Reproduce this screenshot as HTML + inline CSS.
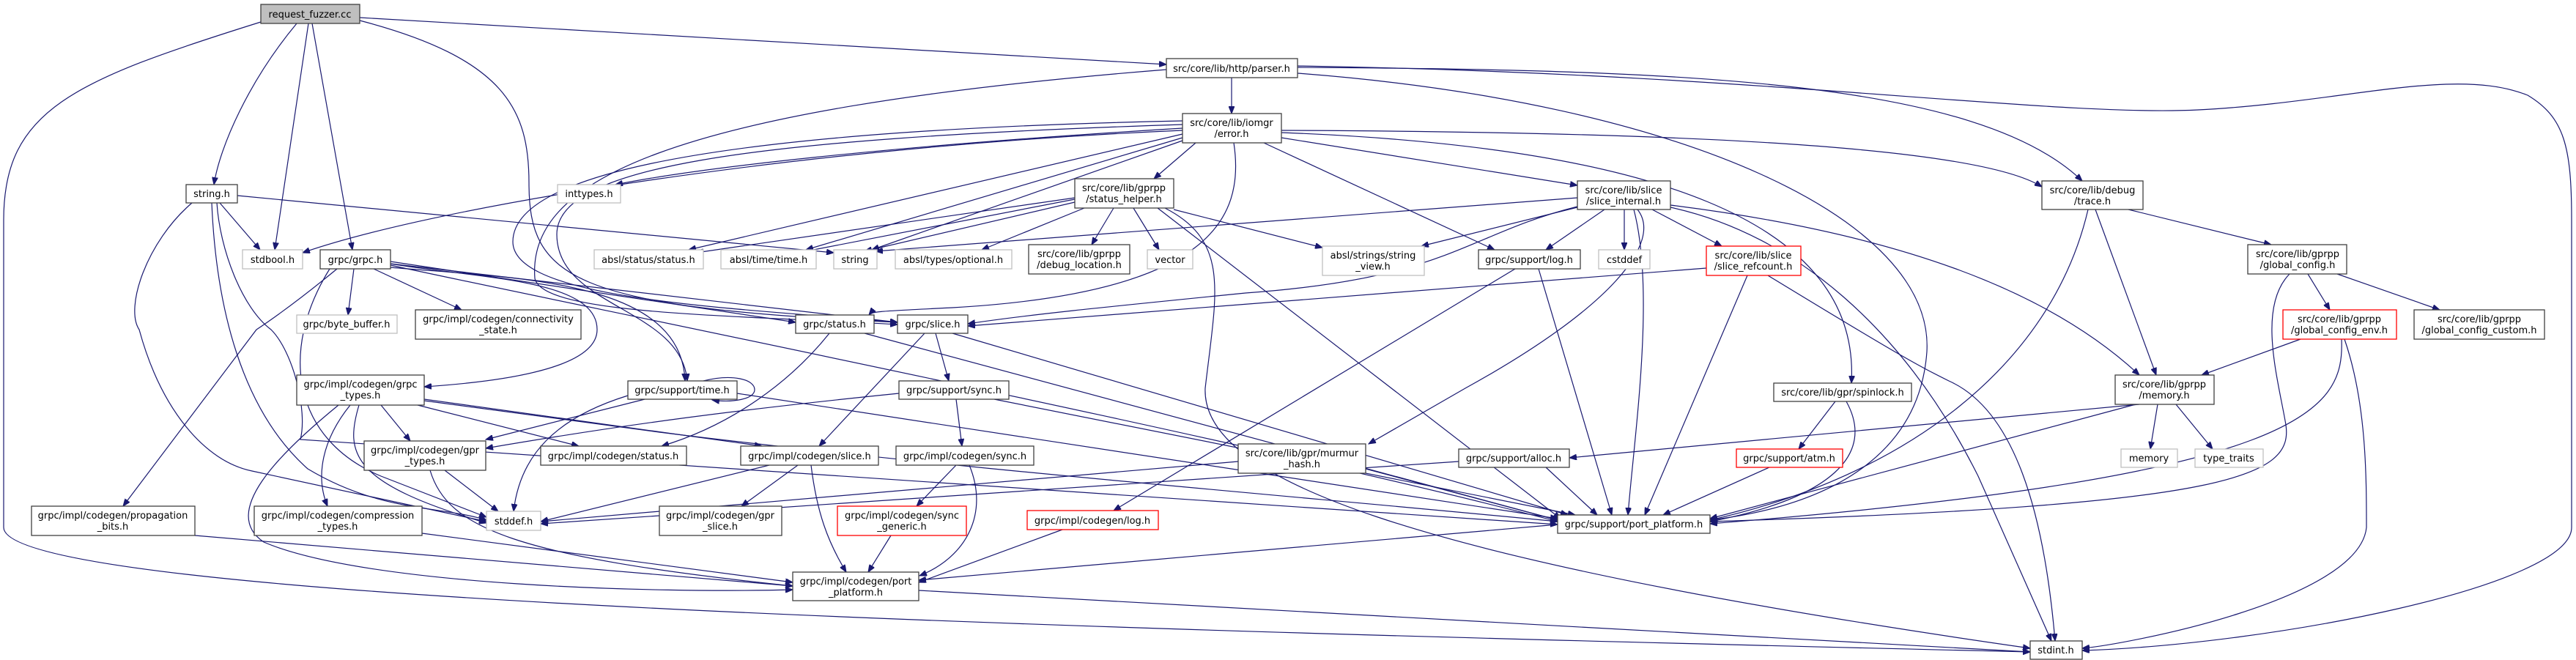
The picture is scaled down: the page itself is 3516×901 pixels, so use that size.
<!DOCTYPE html>
<html><head><meta charset="utf-8"><style>
html,body{margin:0;padding:0;background:#fff;}
svg{display:block;}
text{font-family:"DejaVu Sans","Liberation Sans",sans-serif;font-size:13px;fill:#000;}
.n rect{fill:#fff;stroke:#404040;stroke-width:1.3;}
.g rect{fill:#fff;stroke:#bfbfbf;stroke-width:1.3;}
.r rect{fill:#fff;stroke:#ff0000;stroke-width:1.3;}
.e path{fill:none;stroke:#191970;stroke-width:1.2;marker-end:url(#a);}
</style></head><body>
<svg width="3516" height="901" viewBox="0 0 3516 901" xmlns="http://www.w3.org/2000/svg">
<defs><marker id="a" markerUnits="userSpaceOnUse" markerWidth="11" markerHeight="8" refX="10" refY="4" orient="auto"><path d="M0,0 L10,4 L0,8 z" fill="#191970" stroke="#191970"/></marker></defs>
<g class="e">
<path d="M405 32 C340 110 300 200 292 252"/>
<path d="M421 32 L375 341"/>
<path d="M426 32 L481 341"/>
<path d="M491 24 L1592 88"/>
<path d="M356 30 C100 110 5 150 5 300 L5 720 C5 820 1500 860 2771 890"/>
<path d="M491 28 C690 80 722 150 722 250 C722 380 780 420 1225 440"/>
<path d="M300 277 L355 341"/>
<path d="M324 267 L1138 345"/>
<path d="M262 277 C200 330 170 420 190 450 C220 560 280 630 344 643 L664 712"/>
<path d="M289 277 C295 420 330 560 420 640 C520 700 600 690 664 710"/>
<path d="M296 277 C300 340 330 420 370 450 C400 480 420 560 410 600 L2126 716"/>
<path d="M483 367 L475 430"/>
<path d="M510 367 L630 423"/>
<path d="M460 367 C420 400 380 430 350 450 L168 691"/>
<path d="M533 360 C650 380 815 380 815 450 C815 500 700 520 579 528"/>
<path d="M533 357 L1086 440"/>
<path d="M533 360 L1225 440"/>
<path d="M533 365 C700 380 930 380 935 520"/>
<path d="M533 362 C800 420 1700 600 2126 712"/>
<path d="M450 367 C380 480 400 600 520 650 L664 706"/>
<path d="M520 553 L560 602"/>
<path d="M570 553 L790 609"/>
<path d="M579 545 L1040 609"/>
<path d="M478 553 C440 600 430 650 447 691"/>
<path d="M490 553 C470 620 480 660 664 714"/>
<path d="M462 553 C380 620 300 700 360 740 C500 800 900 810 1082 805"/>
<path d="M579 547 L900 590 C1300 640 1800 680 2126 712"/>
<path d="M607 642 L680 698"/>
<path d="M587 642 C610 720 700 760 1082 800"/>
<path d="M960 520 C1000 510 1030 518 1030 532 C1030 545 1000 550 972 546"/>
<path d="M880 545 L663 600"/>
<path d="M1227 537 C1000 560 850 580 663 612"/>
<path d="M857 540 C760 570 710 620 701 698"/>
<path d="M1006 537 L2126 708"/>
<path d="M1132 455 C1080 520 1000 580 903 609"/>
<path d="M1180 455 L2126 710"/>
<path d="M1262 455 L1118 609"/>
<path d="M1277 455 L1295 520"/>
<path d="M1300 455 L2140 703"/>
<path d="M1305 545 L1313 609"/>
<path d="M1357 545 L2150 703"/>
<path d="M1089 635 L1012 691"/>
<path d="M1050 635 L738 712"/>
<path d="M1107 635 C1115 700 1130 740 1155 781"/>
<path d="M1305 635 L1251 691"/>
<path d="M1323 635 C1350 700 1320 760 1255 786"/>
<path d="M1216 731 L1185 781"/>
<path d="M1450 723 L1254 795"/>
<path d="M266 731 L1082 800"/>
<path d="M576 728 L1082 795"/>
<path d="M2126 716 L1254 792"/>
<path d="M1254 806 L2771 890"/>
<path d="M1681 106 L1681 155"/>
<path d="M1771 92 C2300 95 2700 110 2842 247"/>
<path d="M1771 90 C2400 100 2800 160 3000 150 C3200 140 3350 90 3450 130 C3500 160 3510 200 3510 300 L3510 720 C3510 800 3100 880 2842 888"/>
<path d="M1771 100 C2300 140 2640 300 2630 480 C2620 620 2500 690 2334 710"/>
<path d="M1592 95 C900 150 720 250 730 380 C740 430 1000 430 1225 443"/>
<path d="M1632 195 L1575 244"/>
<path d="M1614 175 C1200 200 950 230 840 252"/>
<path d="M1614 178 C1100 200 600 280 413 345"/>
<path d="M1614 183 L940 341"/>
<path d="M1614 188 L1100 341"/>
<path d="M1614 192 L1190 341"/>
<path d="M1725 195 L2040 341"/>
<path d="M1749 188 L2153 253"/>
<path d="M1749 178 C2300 180 2700 200 2787 255"/>
<path d="M1749 181 C2250 200 2540 300 2527 523"/>
<path d="M1684 195 C1700 300 1650 400 1300 420 C1200 425 1190 425 1186 430"/>
<path d="M1614 170 C1000 190 760 230 760 320 C760 420 930 420 938 520"/>
<path d="M1614 165 C900 180 700 250 700 330 C700 410 1000 420 1225 440"/>
<path d="M1520 284 L1490 334"/>
<path d="M1547 284 L1582 341"/>
<path d="M1467 270 L950 345"/>
<path d="M1467 272 L1100 343"/>
<path d="M1467 276 L1180 343"/>
<path d="M1480 284 L1340 341"/>
<path d="M1602 286 L1805 338"/>
<path d="M1580 284 L2130 708"/>
<path d="M1590 284 C1680 330 1660 400 1645 530 C1640 650 1900 760 2771 885"/>
<path d="M2217 286 L2217 341"/>
<path d="M2255 286 L2350 336"/>
<path d="M2190 286 L2110 341"/>
<path d="M2153 283 L1940 336"/>
<path d="M2153 270 L1195 343"/>
<path d="M2153 282 C2000 320 1980 380 1700 400 C1500 420 1400 430 1321 442"/>
<path d="M2235 286 C2270 330 2200 420 2000 530 L1868 606"/>
<path d="M2280 280 C2600 320 2800 400 2920 512"/>
<path d="M2230 286 C2260 400 2230 600 2222 703"/>
<path d="M2280 283 C2450 320 2600 450 2700 650 L2800 875"/>
<path d="M2329 366 L1321 445"/>
<path d="M2385 376 L2245 703"/>
<path d="M2413 376 C2600 490 2620 500 2660 520 C2750 560 2790 700 2805 875"/>
<path d="M2068 367 L1520 697"/>
<path d="M2100 367 L2200 703"/>
<path d="M2905 286 L3100 334"/>
<path d="M2860 286 L2943 512"/>
<path d="M2850 286 C2800 500 2600 650 2334 710"/>
<path d="M3150 374 L3180 423"/>
<path d="M3190 374 L3330 423"/>
<path d="M3125 374 C3080 420 3110 520 3120 580 C3130 650 3050 690 2334 712"/>
<path d="M3140 463 L3005 512"/>
<path d="M3196 463 C3200 560 3150 650 2334 715"/>
<path d="M3200 463 C3230 550 3230 650 3230 720 C3220 820 2900 880 2842 885"/>
<path d="M2945 552 L2935 613"/>
<path d="M2970 552 L3020 613"/>
<path d="M2920 552 L2142 625"/>
<path d="M2915 552 L2334 708"/>
<path d="M2505 548 L2455 613"/>
<path d="M2520 548 C2560 620 2500 680 2334 712"/>
<path d="M2415 638 L2270 703"/>
<path d="M1991 630 L738 715"/>
<path d="M2110 638 L2180 703"/>
<path d="M1690 630 L738 712"/>
<path d="M1864 640 L2126 710"/>
</g>
<g text-anchor="middle">
<g class="n"><rect x="356" y="6" width="135" height="26" style="fill:#bfbfbf"/><text x="423" y="24">request_fuzzer.cc</text></g>
<g class="n"><rect x="254" y="252" width="70" height="25"/><text x="289" y="269">string.h</text></g>
<g class="g"><rect x="331" y="341" width="82" height="26"/><text x="372" y="359">stdbool.h</text></g>
<g class="n"><rect x="437" y="341" width="96" height="26"/><text x="485" y="359">grpc/grpc.h</text></g>
<g class="g"><rect x="761" y="252" width="86" height="25"/><text x="804" y="269">inttypes.h</text></g>
<g class="g"><rect x="811" y="341" width="149" height="26"/><text x="885" y="359">absl/status/status.h</text></g>
<g class="g"><rect x="984" y="341" width="130" height="26"/><text x="1049" y="359">absl/time/time.h</text></g>
<g class="g"><rect x="1138" y="341" width="59" height="26"/><text x="1167" y="359">string</text></g>
<g class="g"><rect x="1222" y="341" width="159" height="26"/><text x="1301" y="359">absl/types/optional.h</text></g>
<g class="n"><rect x="1404" y="334" width="138" height="40"/><text x="1473" y="351">src/core/lib/gprpp</text><text x="1473" y="366">/debug_location.h</text></g>
<g class="g"><rect x="1566" y="341" width="62" height="26"/><text x="1597" y="359">vector</text></g>
<g class="n"><rect x="1467" y="244" width="135" height="40"/><text x="1534" y="261">src/core/lib/gprpp</text><text x="1534" y="276">/status_helper.h</text></g>
<g class="g"><rect x="1805" y="336" width="139" height="40"/><text x="1874" y="353">absl/strings/string</text><text x="1874" y="368">_view.h</text></g>
<g class="n"><rect x="2018" y="341" width="139" height="26"/><text x="2087" y="359">grpc/support/log.h</text></g>
<g class="n"><rect x="2153" y="247" width="127" height="39"/><text x="2216" y="264">src/core/lib/slice</text><text x="2216" y="279">/slice_internal.h</text></g>
<g class="g"><rect x="2182" y="341" width="70" height="26"/><text x="2217" y="359">cstddef</text></g>
<g class="r"><rect x="2329" y="336" width="129" height="40"/><text x="2393" y="353">src/core/lib/slice</text><text x="2393" y="368">/slice_refcount.h</text></g>
<g class="n"><rect x="2787" y="247" width="138" height="39"/><text x="2856" y="264">src/core/lib/debug</text><text x="2856" y="279">/trace.h</text></g>
<g class="n"><rect x="3068" y="334" width="135" height="40"/><text x="3136" y="351">src/core/lib/gprpp</text><text x="3136" y="366">/global_config.h</text></g>
<g class="r"><rect x="3116" y="423" width="155" height="40"/><text x="3193" y="440">src/core/lib/gprpp</text><text x="3193" y="455">/global_config_env.h</text></g>
<g class="n"><rect x="3295" y="423" width="178" height="40"/><text x="3384" y="440">src/core/lib/gprpp</text><text x="3384" y="455">/global_config_custom.h</text></g>
<g class="n"><rect x="2887" y="512" width="135" height="40"/><text x="2954" y="529">src/core/lib/gprpp</text><text x="2954" y="544">/memory.h</text></g>
<g class="g"><rect x="2895" y="613" width="77" height="25"/><text x="2933" y="630">memory</text></g>
<g class="g"><rect x="2996" y="613" width="93" height="25"/><text x="3042" y="630">type_traits</text></g>
<g class="n"><rect x="2421" y="523" width="188" height="25"/><text x="2515" y="540">src/core/lib/gpr/spinlock.h</text></g>
<g class="r"><rect x="2370" y="613" width="145" height="25"/><text x="2442" y="630">grpc/support/atm.h</text></g>
<g class="n"><rect x="1991" y="613" width="151" height="25"/><text x="2066" y="630">grpc/support/alloc.h</text></g>
<g class="n"><rect x="1690" y="606" width="174" height="40"/><text x="1777" y="623">src/core/lib/gpr/murmur</text><text x="1777" y="638">_hash.h</text></g>
<g class="n"><rect x="2126" y="703" width="208" height="25"/><text x="2230" y="720">grpc/support/port_platform.h</text></g>
<g class="r"><rect x="1402" y="697" width="179" height="26"/><text x="1491" y="715">grpc/impl/codegen/log.h</text></g>
<g class="n"><rect x="1082" y="781" width="172" height="39"/><text x="1168" y="798">grpc/impl/codegen/port</text><text x="1168" y="813">_platform.h</text></g>
<g class="r"><rect x="1143" y="691" width="176" height="40"/><text x="1231" y="708">grpc/impl/codegen/sync</text><text x="1231" y="723">_generic.h</text></g>
<g class="n"><rect x="900" y="691" width="167" height="40"/><text x="983" y="708">grpc/impl/codegen/gpr</text><text x="983" y="723">_slice.h</text></g>
<g class="n"><rect x="1223" y="609" width="188" height="26"/><text x="1317" y="627">grpc/impl/codegen/sync.h</text></g>
<g class="n"><rect x="1011" y="609" width="188" height="26"/><text x="1105" y="627">grpc/impl/codegen/slice.h</text></g>
<g class="n"><rect x="1227" y="520" width="150" height="25"/><text x="1302" y="537">grpc/support/sync.h</text></g>
<g class="n"><rect x="1086" y="430" width="107" height="25"/><text x="1139" y="447">grpc/status.h</text></g>
<g class="n"><rect x="1225" y="430" width="96" height="25"/><text x="1273" y="447">grpc/slice.h</text></g>
<g class="n"><rect x="857" y="520" width="149" height="25"/><text x="931" y="537">grpc/support/time.h</text></g>
<g class="n"><rect x="738" y="609" width="199" height="26"/><text x="837" y="627">grpc/impl/codegen/status.h</text></g>
<g class="n"><rect x="497" y="602" width="166" height="40"/><text x="580" y="619">grpc/impl/codegen/gpr</text><text x="580" y="634">_types.h</text></g>
<g class="n"><rect x="405" y="512" width="174" height="41"/><text x="492" y="529">grpc/impl/codegen/grpc</text><text x="492" y="544">_types.h</text></g>
<g class="g"><rect x="664" y="698" width="74" height="26"/><text x="701" y="716">stddef.h</text></g>
<g class="n"><rect x="43" y="691" width="223" height="40"/><text x="154" y="708">grpc/impl/codegen/propagation</text><text x="154" y="723">_bits.h</text></g>
<g class="n"><rect x="347" y="691" width="229" height="40"/><text x="461" y="708">grpc/impl/codegen/compression</text><text x="461" y="723">_types.h</text></g>
<g class="g"><rect x="405" y="430" width="137" height="25"/><text x="473" y="447">grpc/byte_buffer.h</text></g>
<g class="n"><rect x="567" y="423" width="226" height="40"/><text x="680" y="440">grpc/impl/codegen/connectivity</text><text x="680" y="455">_state.h</text></g>
<g class="n"><rect x="1592" y="80" width="179" height="26"/><text x="1681" y="98">src/core/lib/http/parser.h</text></g>
<g class="n"><rect x="1614" y="155" width="135" height="40"/><text x="1681" y="172">src/core/lib/iomgr</text><text x="1681" y="187">/error.h</text></g>
<g class="n"><rect x="2771" y="875" width="71" height="25"/><text x="2806" y="892">stdint.h</text></g>
</g>
</svg>
</body></html>
